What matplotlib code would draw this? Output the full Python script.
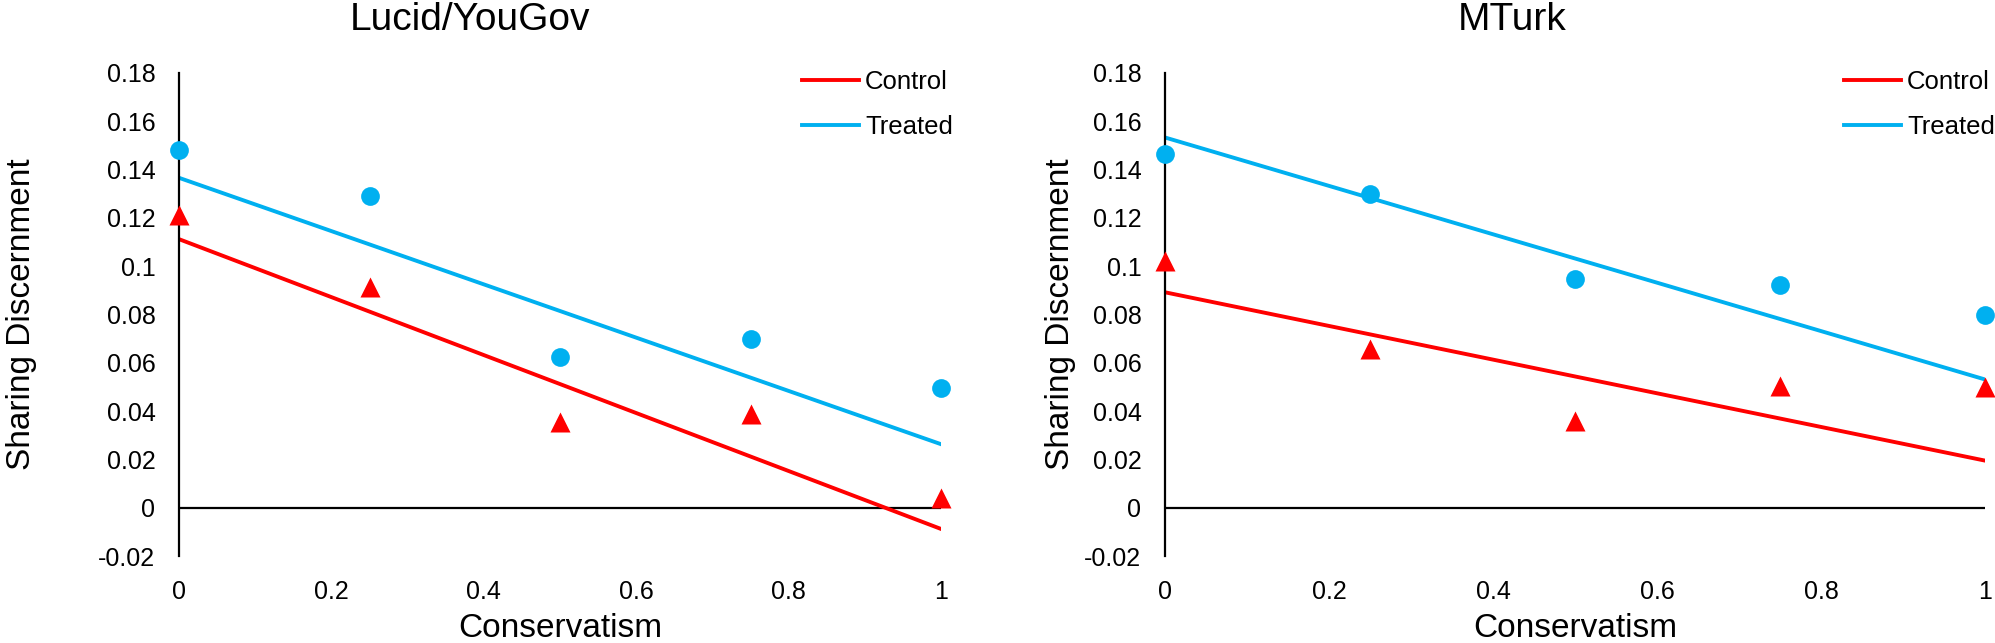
import matplotlib
matplotlib.use("Agg")
import matplotlib.pyplot as plt

plt.rcParams["font.family"] = ["Liberation Sans", "DejaVu Sans"]

# conservatism levels
conservatism = [0, 0.25, 0.5, 0.75, 1]

# Lucid/YouGov
lucid_treated = [0.148, 0.129, 0.0625, 0.070, 0.0495]
lucid_control = [0.121, 0.0915, 0.0355, 0.039, 0.004]
lucid_treated_fit = [0.1366, 0.0263]  # at x=0 and x=1
lucid_control_fit = [0.1112, -0.0088]

# MTurk
mturk_treated = [0.1465, 0.1297, 0.0946, 0.0922, 0.0798]
mturk_control = [0.102, 0.0657, 0.0361, 0.0502, 0.0498]
mturk_treated_fit = [0.1533, 0.0531]
mturk_control_fit = [0.0892, 0.0195]

fit_x = [0, 1]
x_ticks = [0, 0.2, 0.4, 0.6, 0.8, 1]
x_labels = ["0", "0.2", "0.4", "0.6", "0.8", "1"]
y_ticks = [-0.02, 0, 0.02, 0.04, 0.06, 0.08, 0.1, 0.12, 0.14, 0.16, 0.18]
y_labels = ["-0.02", "0", "0.02", "0.04", "0.06", "0.08", "0.1", "0.12", "0.14", "0.16", "0.18"]

RED = "#FF0000"
BLUE = "#00B0F0"

W, H = 1995, 643
fig = plt.figure(figsize=(W / 100, H / 100), dpi=100)

panels = [
    ("Lucid/YouGov", lucid_treated, lucid_control, lucid_treated_fit, lucid_control_fit,
     179, 941, 470, 802, -0.186),
    ("MTurk", mturk_treated, mturk_control, mturk_treated_fit, mturk_control_fit,
     1165, 1985, 1512, 1844, -0.108),
]

ax_bottom = 1 - 556 / H
ax_height = (556 - 73) / H

for title, treated, control, tfit, cfit, x0, x1, title_x, leg_x, ylab_x in panels:
    ax = fig.add_axes([x0 / W, ax_bottom, (x1 - x0) / W, ax_height])
    ax.set_xlim(0, 1)
    ax.set_ylim(-0.02, 0.18)

    for s in ["top", "right", "bottom"]:
        ax.spines[s].set_visible(False)
    ax.spines["left"].set_linewidth(1.6)
    ax.axhline(0, color="black", lw=1.6, zorder=1)

    ax.plot(fit_x, cfit, color=RED, lw=2.8, label="Control", zorder=2)
    ax.plot(fit_x, tfit, color=BLUE, lw=2.8, label="Treated", zorder=2)
    ax.plot(conservatism, treated, "o", color=BLUE, ms=13.5, mec="none", clip_on=False, zorder=3)
    ax.plot(conservatism, control, "^", color=RED, ms=15, mec="none", clip_on=False, zorder=3)

    ax.set_xticks(x_ticks)
    ax.set_xticklabels(x_labels)
    ax.set_yticks(y_ticks)
    ax.set_yticklabels(y_labels)
    ax.tick_params(axis="x", length=0, pad=17, labelsize=18)
    ax.tick_params(axis="y", length=0, pad=17, labelsize=18)

    ax.set_xlabel("Conservatism", fontsize=24)
    ax.xaxis.set_label_coords(0.5, -0.118)
    ax.set_ylabel("Sharing Discernment", fontsize=24)
    ax.yaxis.set_label_coords(ylab_x, 0.5)

    fig.text(title_x / W, 1 - 30 / H, title, fontsize=28, ha="center", va="baseline")

    ax.legend(loc="upper left", bbox_to_anchor=(leg_x / W, 1 - 70 / H),
              bbox_transform=fig.transFigure, frameon=False, fontsize=18.5,
              handlelength=2.2, handletextpad=0.25, labelspacing=0.8, borderpad=0,
              borderaxespad=0)

fig.savefig("out.png", dpi=100)
